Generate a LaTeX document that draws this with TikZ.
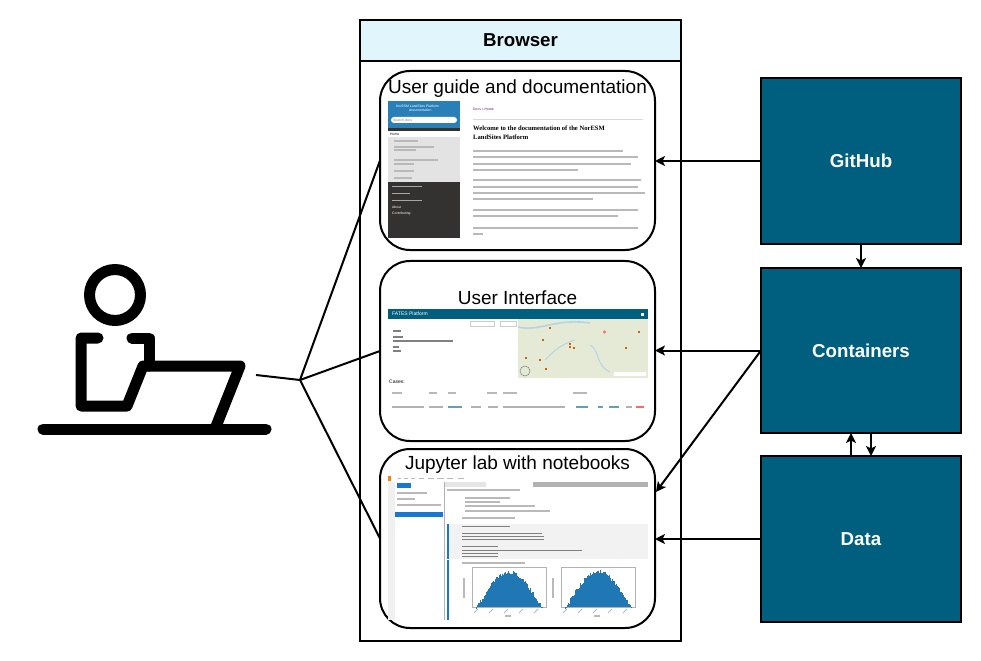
\documentclass[tikz,border=0pt]{standalone}
\usepackage{fontspec}
\setmainfont{Liberation Sans}
\newfontfamily\docserif{Liberation Serif}
\usetikzlibrary{arrows.meta}
\definecolor{teal}{HTML}{005F7F}
\definecolor{headblue}{HTML}{E1F5FC}
\definecolor{rtdblue}{HTML}{2980B9}
\definecolor{rtddark}{HTML}{343131}
\definecolor{rtdgrey}{HTML}{E3E3E3}
\definecolor{maptone}{HTML}{E4EAD6}
\definecolor{mapriver}{HTML}{B5D5E4}
\definecolor{labblue}{HTML}{1976D2}
\definecolor{histblue}{HTML}{1F77B4}
\tikzset{
    panel/.style={draw,line width=2bp,fill=white,rounded corners=30bp,minimum width=275bp,minimum height=179bp,inner sep=0pt,outer sep=0pt},
    service/.style={draw,line width=2bp,fill=teal,text=white,font=\fontsize{18.7bp}{20bp}\selectfont\bfseries,minimum width=200bp,minimum height=166bp,inner sep=0pt,outer sep=0pt},
    paneltitle/.style={font=\fontsize{19bp}{21bp}\selectfont,inner sep=0pt},
    link/.style={line width=2bp},
    arrow/.style={line width=2bp,-{Stealth[length=10bp,width=10bp,inset=2.5bp]}},
    figure/.style={line width=11bp,line cap=round,line join=round},
    txtline/.style={line width=1.1bp,gray!55},
    tiny/.style={font=\fontsize{3.4bp}{4bp}\selectfont,inner sep=0pt,anchor=west},
}
\newcommand{\histo}[2]{
    \draw[gray!60,line width=0.4bp] (#1,567) rectangle (#1+74,607);
    \foreach \t in {0,...,66} {
        \pgfmathsetmacro{\hgt}{37*sin(180*(\t+1)/68)^1.1-rnd*4}
        \fill[histblue] (#1+3.5+\t,#2) rectangle (#1+4.7+\t,#2-\hgt);
    }
    \foreach \t in {0,...,4} {
        \draw[txtline,line width=0.8bp] (#1+6+\t*15,609) -- (#1+2+\t*15,613);
    }
    \draw[txtline] (#1-8,578) -- (#1-8,598);
    \draw[txtline] (#1+33,616) -- (#1+39,616);
}
\begin{document}
\begin{tikzpicture}[x=1bp,y=-1bp]
    \useasboundingbox (0,0) rectangle (981,661);
    \pgfmathsetseed{7}

    % user at the desk
    \draw[figure] (115,295) circle (25.5);
    \draw[figure] (98,338) -- (81,338) -- (81,406) -- (127,406) -- (143,366) -- (240,366) -- (215,429);
    \draw[figure] (132,338) -- (149,338) -- (149,366);
    \draw[figure] (43,429) -- (266,429);
    \coordinate (user) at (256,375);
    \coordinate (hub) at (300,380);

    % browser window
    \node[draw,line width=2bp,minimum width=321bp,minimum height=621bp,outer sep=0pt] (browser) at (520.5,330.5) {};
    \node[draw,line width=2bp,fill=headblue,minimum width=321bp,minimum height=41bp,outer sep=0pt,font=\fontsize{18.7bp}{20bp}\selectfont\bfseries] (browserhead) at (520.5,40.5) {Browser};

    \node[panel] (guide) at (517.5,160.5) {};
    \node[panel,minimum height=180bp] (ui) at (517.5,351) {};
    \node[panel] (jupyter) at (517.5,538.5) {};
    \coordinate (jupyterin) at (656,492);

    \node[service] (github) at (861,161) {GitHub};
    \node[service,minimum height=165bp] (containers) at (861,350.5) {Containers};
    \node[service] (data) at (861,539) {Data};

    \node[paneltitle] (guidetitle) at (517.5,89) {User guide and documentation};
    \node[paneltitle] (uititle) at (517.5,298) {User Interface};
    \node[paneltitle] (jupytertitle) at (517.5,465) {Jupyter lab with notebooks};

    % screenshot of the user guide
    \fill[rtddark] (388,101) rectangle (460,238);
    \fill[rtdblue] (388,101) rectangle (460,128);
    \fill[white,rounded corners=3bp] (391,117) rectangle (457,123);
    \fill[rtdgrey] (388,137) rectangle (460,182);
    \fill[white] (388,131) rectangle (460,137);
    \node[tiny,text=white] (guidename) at (396,106) {NorESM LandSites Platform};
    \node[tiny,text=white] (guidename2) at (409,110) {documentation};
    \node[tiny,text=gray] (guidesearch) at (393,120) {Search docs};
    \node[tiny] (guidehome) at (390,134) {Home};
    \foreach \y/\w in {141/24,147/40,150/22,160/44,164/20,171/20,178/18} {
        \draw[txtline] (394,\y) -- (394+\w,\y);
    }
    \foreach \y/\w in {186/30,193/18,200/30} {
        \draw[txtline,gray!70,line width=0.8bp] (392,\y) -- (392+\w,\y);
    }
    \node[tiny,text=white] (guideabout) at (392,207) {About};
    \node[tiny,text=white] (guidecontrib) at (392,214) {Contributing};
    \node[tiny,text=violet!80!black] (guidedocs) at (473,109) {Docs » Home};
    \draw[gray!30,line width=0.5bp] (473,119) -- (643,119);
    \node[inner sep=0pt,anchor=north west,align=left,font=\docserif\fontsize{6.6bp}{9bp}\selectfont\bfseries] (guidewelcome) at (473,126) {Welcome to the documentation of the NorESM\\LandSites Platform};
    \foreach \y/\w in {151/150,157/165,164/158,170/105,180/168,187/165,193/172,199/120,210/165,216/145,228/165,234/10} {
        \draw[txtline] (473,\y) -- (473+\w,\y);
    }

    % screenshot of the user interface
    \fill[teal] (388,309) rectangle (648,319);
    \node[tiny,text=white,font=\fontsize{5bp}{6bp}\selectfont] (uiname) at (392,314) {FATES Platform};
    \fill[white] (641,313) rectangle (644,316);
    \fill[maptone] (518,319) rectangle (648,378);
    \draw[mapriver,line width=1.6bp] (518,327) .. controls (540,332) and (555,318) .. (590,323);
    \draw[mapriver,line width=1bp] (590,345) .. controls (600,350) and (595,365) .. (610,372);
    \draw[mapriver,line width=1bp] (545,360) .. controls (555,350) and (560,345) .. (575,340);
    \foreach \px/\py in {550/328,543/340,570/344,570/347,574/348,526/358,540/360,546/369,639/332,626/348} {
        \fill[orange!80!black] (\px-1,\py-1) rectangle (\px+1,\py+1);
    }
    \fill[red!60] (604.5,332) circle (1.6);
    \draw[gray,line width=0.5bp] (525,371) circle (5);
    \fill[white] (614,372) rectangle (646,376);
    \foreach \px/\w in {470/24,500/16} {
        \draw[gray!40,line width=0.4bp] (\px,321) rectangle (\px+\w,326);
    }
    \foreach \y/\w in {331/8,337/10,341/60,347/6,351/8} {
        \draw[txtline,gray] (393,\y) -- (393+\w,\y);
    }
    \node[tiny,font=\fontsize{5bp}{6bp}\selectfont] (uicases) at (389,382) {Cases:};
    \foreach \x/\w in {392/10,429/8,448/8,487/10,507/10,503/11,573/14} {
        \draw[txtline] (\x,393) -- (\x+\w,393);
    }
    \foreach \x/\w/\tone in {392/32/gray,429/14/gray,448/14/teal,471/10/gray,488/10/gray,503/62/gray,576/12/teal,598/5/teal,609/10/teal,626/6/gray,636/8/red} {
        \draw[txtline,\tone!60] (\x,407) -- (\x+\w,407);
    }

    % screenshot of jupyter lab
    \foreach \x/\w in {398/3,404/4,411/4,419/5,428/6,437/7,447/6,458/6} {
        \draw[txtline] (\x,478.5) -- (\x+\w,478.5);
    }
    \fill[orange] (388,476) rectangle (391,481);
    \fill[gray!12] (388,482) rectangle (395,620);
    \fill[labblue] (397,483) rectangle (411,488);
    \fill[gray!60] (444,482) rectangle (445,620);
    \foreach \y/\w in {493/30,499/18,505/44} {
        \draw[txtline] (397,\y) -- (397+\w,\y);
    }
    \fill[labblue] (395,512) rectangle (443,517);
    \fill[gray!20] (445,482) rectangle (486,487);
    \fill[gray!60] (533,482) rectangle (648,487);
    \draw[txtline] (447,490) -- (520,490);
    \foreach \y/\w in {498/45,502/35,506/70,511/85} {
        \draw[txtline] (465,\y) -- (465+\w,\y);
    }
    \draw[txtline] (462,518) -- (515,518);
    \fill[gray!10] (449,524) rectangle (648,559);
    \fill[labblue] (447,524) rectangle (449,559);
    \fill[labblue] (447,560) rectangle (449,620);
    \foreach \y/\w in {526/48,533/80,536/82,539/82,546/36,550/120,553/36,556/36} {
        \draw[txtline,gray,line width=0.9bp] (462,\y) -- (462+\w,\y);
    }
    \draw[txtline] (462,563) -- (525,563);
    \histo{472}{607}
    \histo{561}{607}

    % connectors
    \draw[link] (user) -- (hub);
    \draw[link] (hub) -- (guide.west);
    \draw[link] (hub) -- (ui.west);
    \draw[link] (hub) -- (jupyter.west);
    \draw[arrow] (github.west) -- (github.west -| guide.east);
    \draw[arrow] (containers.west) -- (containers.west -| ui.east);
    \draw[arrow] (data.west) -- (data.west -| jupyter.east);
    \draw[arrow] (containers.west) -- (jupyterin);
    \draw[arrow] (github.south) -- (containers.north);
    \draw[arrow] ([xshift=-10bp]data.north) -- ([xshift=-10bp]containers.south);
    \draw[arrow] ([xshift=10bp]containers.south) -- ([xshift=10bp]data.north);
\end{tikzpicture}
\end{document}
